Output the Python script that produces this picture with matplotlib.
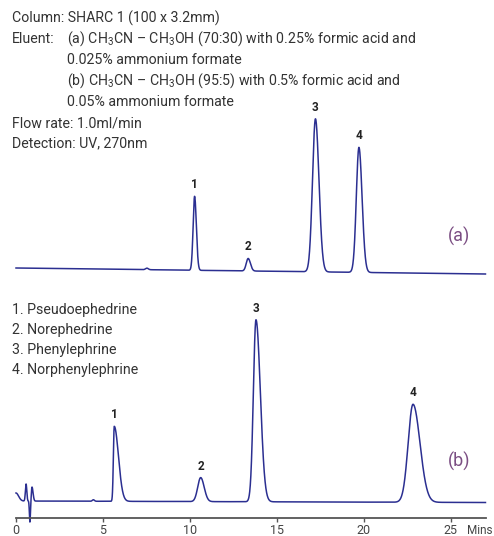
import numpy as np
import matplotlib
matplotlib.use("Agg")
import matplotlib.pyplot as plt

plt.rcParams['font.family'] = ['Roboto', 'DejaVu Sans']
plt.rcParams['mathtext.fontset'] = 'custom'
plt.rcParams['mathtext.rm'] = 'Roboto'

# peak tables (time in min, height in detector units)
peak_ids = ['1', '2', '3', '4']
compounds = ['Pseudoephedrine', 'Norephedrine', 'Phenylephrine', 'Norphenylephrine']

# trace (a)
a_times = [7.53, 10.27, 13.35, 17.22, 19.72]
a_heights = [1.5, 74, 12.5, 153, 125]
a_sig_left = [0.08, 0.085, 0.11, 0.17, 0.15]
a_sig_right = [0.08, 0.10, 0.13, 0.20, 0.18]
a_labelled = [None, '1', '2', '3', '4']
a_baseline_t = [0, 27]
a_baseline_y = [250, 244]

# trace (b), first four entries are the injection disturbance
b_times = [0.0, 0.58, 0.80, 0.92, 4.45, 5.65, 10.62, 13.80, 22.83]
b_heights = [8, 17, -21, 14, 1.5, 75, 24, 182, 98]
b_sig_left = [0.01, 0.04, 0.03, 0.035, 0.06, 0.05, 0.17, 0.15, 0.28]
b_sig_right = [0.15, 0.04, 0.03, 0.06, 0.06, 0.24, 0.20, 0.25, 0.40]
b_labelled = [None, None, None, None, None, '1', '2', '3', '4']
b_baseline_t = [0, 27]
b_baseline_y = [17, 15.5]

ticks = [0, 5, 10, 15, 20, 25]

header = [
    (12, 23, "Column: SHARC 1 (100 x 3.2mm)"),
    (12, 43, "Eluent:"),
    (67, 43, r"(a) CH$_\mathregular{3}$CN – CH$_\mathregular{3}$OH (70:30) with 0.25% formic acid and"),
    (67, 64, "0.025% ammonium formate"),
    (67, 85, r"(b) CH$_\mathregular{3}$CN – CH$_\mathregular{3}$OH (95:5) with 0.5% formic acid and"),
    (67, 106, "0.05% ammonium formate"),
    (12, 127, "Flow rate: 1.0ml/min"),
    (12, 147, "Detection: UV, 270nm"),
]

W, H = 494, 536
fig = plt.figure(figsize=(W / 100, H / 100), dpi=100)
ax = fig.add_axes([0, 0, 1, 1])
px_per_min = 17.39
ax.set_xlim(-16 / px_per_min, (W - 16) / px_per_min)
ax.set_ylim(-18, 518)

t = np.arange(0, 27.0, 0.004)


def trace(times, heights, sl, sr, bt, by):
    y = np.interp(t, bt, by)
    for tr, h, s1, s2 in zip(times, heights, sl, sr):
        s = np.where(t < tr, s1, s2)
        y = y + h * np.exp(-0.5 * ((t - tr) / s) ** 2)
    return y


line_col = '#2b2f91'
ya = trace(a_times, a_heights, a_sig_left, a_sig_right, a_baseline_t, a_baseline_y)
yb = trace(b_times, b_heights, b_sig_left, b_sig_right, b_baseline_t, b_baseline_y)
ax.plot(t, ya, color=line_col, lw=1.1)
ax.plot(t, yb, color=line_col, lw=1.1)

# peak numbers
for times, lab, trc in [(a_times, a_labelled, ya), (b_times, b_labelled, yb)]:
    for tr, l in zip(times, lab):
        if l is None:
            continue
        top = trc[np.argmin(np.abs(t - tr))]
        ax.text(tr, top + 5, l, ha='center', va='bottom', fontsize=8.5,
                fontweight='bold', color='#222222')

fig.text(459 / W, 1 - 236 / H, '(a)', ha='center', va='center', fontsize=13, color='#7b4e83')
fig.text(459 / W, 1 - 461 / H, '(b)', ha='center', va='center', fontsize=13, color='#7b4e83')

# bottom axis
for s in ['top', 'right', 'left']:
    ax.spines[s].set_visible(False)
ax.spines['bottom'].set_position(('data', 0))
ax.spines['bottom'].set_bounds(0, 27)
ax.spines['bottom'].set_color('#555555')
ax.spines['bottom'].set_linewidth(1.3)
ax.set_xticks(ticks)
ax.set_xticklabels([str(v) for v in ticks])
ax.tick_params(axis='x', direction='out', length=3, width=1, color='#555555',
               labelsize=9, labelcolor='#444444', pad=1)
ax.set_yticks([])
fig.text(467 / W, 1 - 531 / H, 'Mins', fontsize=8.5, color='#444444', va='center', ha='left')

for x, y, s in header:
    fig.text(x / W, 1 - y / H, s, fontsize=10.2, color='#333333', va='baseline', ha='left')

for i, (pid, name) in enumerate(zip(peak_ids, compounds)):
    fig.text(12 / W, 1 - (314 + 20 * i) / H, f"{pid}. {name}", fontsize=10.2,
             color='#333333', va='baseline', ha='left')

fig.savefig('out.png', dpi=100)
